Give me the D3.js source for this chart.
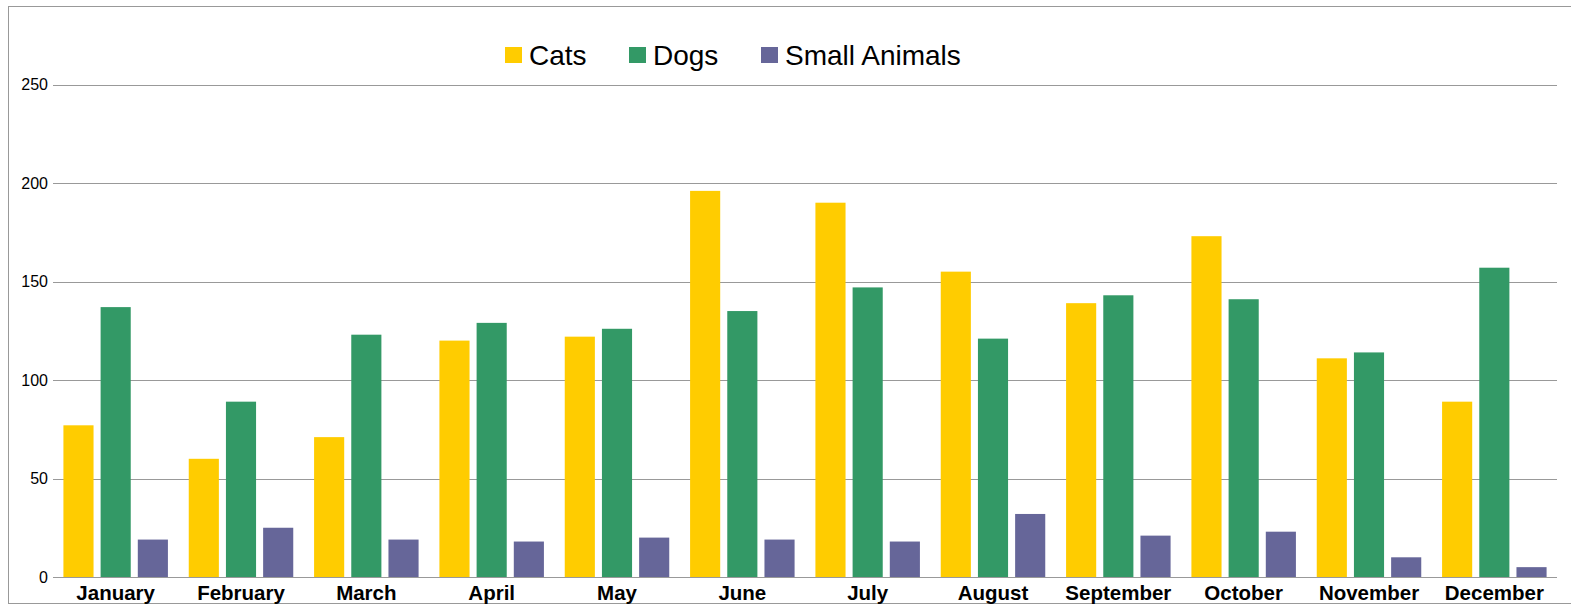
<!DOCTYPE html>
<html>
<head>
<meta charset="utf-8">
<script src="https://cdn.jsdelivr.net/npm/d3@7"></script>
<style>
  body { margin: 0; background: #fff; }
  svg { display: block; font-family: "Liberation Sans", Arial, sans-serif; }
</style>
</head>
<body>
<svg width="1571" height="605"></svg>
<script>
// data
const months = ['January', 'February', 'March', 'April', 'May', 'June',
    'July', 'August', 'September', 'October', 'November', 'December']
const seriesNames = ['Cats', 'Dogs', 'Small Animals']
const cats = [77, 60, 71, 120, 122, 196, 190, 155, 139, 173, 111, 89]
const dogs = [137, 89, 123, 129, 126, 135, 147, 121, 143, 141, 114, 157]
const smallAnimals = [19, 25, 19, 18, 20, 19, 18, 32, 21, 23, 10, 5]
const yTicks = [0, 50, 100, 150, 200, 250]
const colors = ['#ffcc00', '#339966', '#666699']

const values = [cats, dogs, smallAnimals]
const rows = months.map((m, i) => ({
    month: m,
    vals: seriesNames.map((s, j) => ({ key: s, value: values[j][i] }))
}))

const svg = d3.select('svg')

// outer frame (right side runs off the page)
svg.append('rect')
    .attr('x', 8.5)
    .attr('y', 6.5)
    .attr('width', 1580)
    .attr('height', 597)
    .attr('fill', 'none')
    .attr('stroke', '#999')
    .attr('stroke-width', 1)

const plotL = 53, plotR = 1557, plotT = 84.5, plotB = 577

const x0 = d3.scaleBand()
    .domain(months)
    .range([plotL, plotR])

const x1 = d3.scaleBand()
    .domain(seriesNames)
    .range([0, x0.bandwidth()])
    .paddingInner(0.19)
    .paddingOuter(0.28)

const y = d3.scaleLinear()
    .domain([0, 250])
    .range([plotB, plotT])

const color = d3.scaleOrdinal()
    .domain(seriesNames)
    .range(colors)

// grid lines + y labels
const yAxis = d3.axisLeft(y)
    .tickValues(yTicks)
    .tickSize(-(plotR - plotL))
    .tickPadding(5)

const gy = svg.append('g')
    .attr('transform', `translate(${plotL},0)`)
    .call(yAxis)
gy.select('.domain').remove()
gy.selectAll('.tick line')
    .attr('stroke', '#999')
    .attr('shape-rendering', 'crispEdges')
gy.selectAll('.tick text')
    .attr('font-size', 16)
    .attr('fill', '#000')
    .attr('font-family', '"Liberation Sans", Arial, sans-serif')

// bars
svg.append('g')
    .selectAll('g')
    .data(rows)
    .join('g')
    .attr('transform', d => `translate(${x0(d.month)},0)`)
    .selectAll('rect')
    .data(d => d.vals)
    .join('rect')
    .attr('x', d => x1(d.key))
    .attr('y', d => y(d.value))
    .attr('width', x1.bandwidth())
    .attr('height', d => y(0) - y(d.value))
    .attr('fill', d => color(d.key))

// x labels
const xAxis = d3.axisBottom(x0)
    .tickSize(0)
    .tickPadding(8)

const gx = svg.append('g')
    .attr('transform', `translate(0,${plotB})`)
    .call(xAxis)
gx.select('.domain').remove()
gx.selectAll('.tick text')
    .attr('font-size', 20.5)
    .attr('font-weight', 'bold')
    .attr('fill', '#000')
    .attr('font-family', '"Liberation Sans", Arial, sans-serif')

// legend
const legendX = [505, 629, 761]
const legend = svg.append('g')
    .selectAll('g')
    .data(seriesNames)
    .join('g')
    .attr('transform', (d, i) => `translate(${legendX[i]},47)`)

legend.append('rect')
    .attr('width', 17)
    .attr('height', 16)
    .attr('fill', d => color(d))

legend.append('text')
    .attr('x', 24)
    .attr('y', 18)
    .attr('font-size', 28)
    .attr('fill', '#000')
    .text(d => d)
</script>
</body>
</html>
